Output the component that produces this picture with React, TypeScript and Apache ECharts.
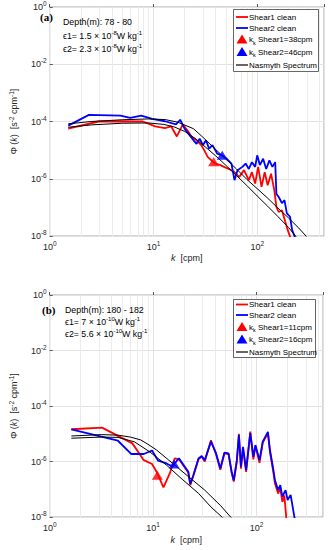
import React, { useEffect, useRef } from "react";
import * as echarts from "echarts";

// ---------- data (k in cpm, Φ in s^-2 cpm^-1) ----------
const X_MIN = 1;
const X_MAX = 440;
const Y_MIN = 1e-8;
const Y_MAX = 1;
const minorGridK = [2, 3, 4, 5, 6, 7, 8, 9, 20, 30, 40, 50, 60, 70, 80, 90, 200, 300, 400];

// Panel (a)  Depth 78 - 80 m
const shear1A: number[][] = [
  [1.51, 5.6e-5], [2.95, 1.0e-4], [4.82, 1.02e-4], [7.89, 1.0e-4], [10.4, 6.8e-5], [12.9, 5.9e-5],
  [14.8, 6.8e-5], [16.8, 3.0e-5], [19.2, 7.9e-5], [21.8, 4.3e-5], [23.4, 2.8e-5], [26.0, 2.2e-5],
  [28.9, 1.5e-5], [30.9, 9.8e-6], [33.3, 5.8e-6], [37.5, 3.9e-6], [39.6, 3.4e-6], [44.1, 3.0e-6],
  [49.0, 2.5e-6], [54.5, 2.1e-6], [60.4, 1.7e-6], [67.1, 1.15e-6], [74.6, 2.0e-6], [83.0, 8.9e-7],
  [88.9, 1.7e-6], [95.5, 6.8e-7], [102, 2.6e-6], [110, 5.2e-7], [118, 1.7e-6], [126, 5.9e-7],
  [136, 1.5e-6], [146, 4.0e-7], [153, 1.05e-7], [161, 6.9e-8], [173, 7.9e-8], [186, 3.2e-8],
  [197, 1.6e-8], [207, 9.5e-9], [215, 6e-9],
];
const shear2A: number[][] = [
  [1.51, 7.2e-5], [2.39, 1.7e-4], [4.82, 1.6e-4], [5.96, 1.35e-4], [7.62, 1.6e-4], [9.73, 1.23e-4],
  [12.9, 1.02e-4], [16.5, 7.9e-5], [18.1, 1.15e-4], [20.0, 5.5e-5], [21.8, 3.7e-5], [24.3, 2.2e-5],
  [26.0, 1.66e-5], [27.9, 2.5e-5], [30.0, 1.5e-5], [32.1, 2.2e-5], [34.4, 1.12e-5], [37.0, 1.5e-5],
  [41.1, 7.6e-6], [45.7, 6.6e-6], [50.7, 5.0e-6], [56.4, 3.4e-6], [60.4, 8.9e-7], [64.6, 2.0e-6],
  [71.9, 2.6e-6], [77.3, 3.4e-6], [83.0, 2.2e-6], [88.9, 3.8e-6], [95.5, 2.6e-6], [100, 6.6e-6],
  [106, 3.0e-6], [114, 5.0e-6], [122, 2.2e-6], [131, 4.4e-6], [140, 2.6e-6], [149, 3.8e-6],
  [153, 3.0e-7], [161, 2.3e-7], [173, 1.4e-7], [183, 1.8e-7], [193, 6.2e-8], [207, 4.7e-8],
  [217, 1.6e-8], [230, 9.5e-9], [240, 6e-9],
];
const nasmythA2: number[][] = [
  [1.51, 8.3e-5], [2.51, 1.0e-4], [5.01, 1.15e-4], [8.91, 1.23e-4], [12.9, 1.17e-4], [17.1, 9.5e-5],
  [24.3, 5.6e-5], [30.0, 2.8e-5], [39.8, 1.05e-5], [50.1, 4.8e-6], [63.1, 2.2e-6], [79.4, 9.5e-7],
  [100, 4.5e-7], [126, 2.1e-7], [158, 9.5e-8], [200, 4.3e-8], [251, 1.9e-8], [295, 1.0e-8], [320, 7e-9],
];
const nasmythA1: number[][] = [
  [1.51, 6.3e-5], [2.51, 7.6e-5], [5.01, 8.7e-5], [8.91, 8.9e-5], [12.6, 7.9e-5], [15.8, 6.5e-5],
  [20.0, 4.5e-5], [25.1, 2.6e-5], [31.6, 1.3e-5], [39.8, 6.3e-6], [50.1, 2.9e-6], [63.1, 1.3e-6],
  [79.4, 5.8e-7], [100, 2.5e-7], [126, 1.1e-7], [158, 4.8e-8], [200, 2.0e-8], [234, 1.0e-8], [255, 7e-9],
];
const kkShear1A: number[][] = [[38, 3.9e-6]];
const kkShear2A: number[][] = [[46, 6.6e-6]];

// Panel (b)  Depth 180 - 182 m
const shear1B: number[][] = [
  [1.62, 1.45e-5], [3.21, 1.66e-5], [6.31, 4.5e-6], [8.13, 1.12e-6], [9.77, 8.1e-7], [10.8, 4.3e-7],
  [12.6, 1.17e-7], [14.5, 3.7e-7], [16.2, 1.3e-6], [17.8, 1.2e-6], [21.9, 4.0e-7], [22.9, 1.4e-7],
  [24.5, 3.0e-7], [27.5, 1.2e-6], [29.5, 1.5e-6], [31.6, 1.0e-6], [36.3, 5.8e-6], [40.7, 1.8e-6],
  [44.7, 5.0e-7], [49.0, 2.0e-6], [53.7, 1.8e-6], [57.5, 4.0e-7], [60.3, 1.9e-7], [64.6, 1.0e-6],
  [67.6, 1.0e-5], [70.8, 5.5e-7], [74.1, 3.0e-6], [79.4, 4.2e-7], [87.1, 1.2e-5], [93.3, 1.2e-6],
  [97.7, 3.6e-6], [107, 9.0e-7], [115, 4.8e-6], [129, 1.05e-5], [135, 2.2e-6], [145, 4.5e-7],
  [151, 1.6e-7], [162, 7.0e-8], [170, 1.1e-7], [178, 3.5e-8], [186, 6.0e-8], [195, 8e-9],
];
const shear2B: number[][] = [
  [1.62, 1.45e-5], [4.57, 5.6e-6], [6.17, 1.86e-6], [8.13, 1.86e-6], [9.77, 2.5e-6], [11.2, 1.07e-6],
  [13.5, 8.5e-7], [15.5, 6.5e-7], [16.0, 8.1e-7], [17.8, 1.3e-6], [21.9, 4.3e-7], [22.9, 1.55e-7],
  [24.5, 3.2e-7], [27.5, 1.29e-6], [29.5, 1.58e-6], [31.6, 1.12e-6], [36.3, 5.2e-6], [40.7, 1.95e-6],
  [44.7, 5.6e-7], [49.0, 2.1e-6], [53.7, 1.95e-6], [57.5, 4.3e-7], [60.3, 2.1e-7], [64.6, 1.12e-6],
  [67.6, 8.9e-6], [70.8, 6.5e-7], [74.1, 3.4e-6], [79.4, 4.9e-7], [87.1, 1.05e-5], [93.3, 1.48e-6],
  [97.7, 3.9e-6], [107, 1.12e-6], [115, 5.2e-6], [129, 1.17e-5], [135, 2.6e-6], [145, 5.6e-7],
  [151, 2.1e-7], [162, 9.3e-8], [170, 1.41e-7], [178, 5.4e-8], [191, 9.3e-8], [200, 4.1e-8],
  [214, 6.2e-8], [224, 2.3e-8], [234, 8.9e-9],
];
const nasmythB1: number[][] = [
  [1.62, 8.3e-6], [3.16, 9.3e-6], [4.57, 8.9e-6], [6.03, 7.6e-6], [7.59, 6.0e-6], [8.91, 4.2e-6],
  [10.8, 2.6e-6], [15.5, 8.5e-7], [22.1, 2.8e-7], [31.6, 9.3e-8], [45.3, 2.5e-8], [56.2, 1.0e-8], [62, 7e-9],
];
const nasmythB2: number[][] = [
  [1.62, 6.9e-6], [3.16, 7.6e-6], [4.57, 7.4e-6], [6.61, 5.1e-6], [9.33, 2.2e-6], [13.5, 7.4e-7],
  [19.1, 2.3e-7], [27.5, 7.1e-8], [36.3, 2.3e-8], [47.9, 8.9e-9], [52, 7e-9],
];
const kkShear1B: number[][] = [[11, 3.2e-7]];
const kkShear2B: number[][] = [[16, 8.1e-7]];

const namesA = ["Shear1 clean", "Shear2 clean", "k_k Shear1=38cpm", "k_k Shear2=46cpm", "Nasmyth Spectrum"];
const namesB = ["Shear1 clean", "Shear2 clean", "k_k Shear1=11cpm", "k_k Shear2=16cpm", "Nasmyth Spectrum"];
const legendColors = ["#ff0000", "#0000ff", "#ff0000", "#0000ff", "#000000"];

// ---------- helpers ----------
const FONT = "'Liberation Sans', Arial, Helvetica, sans-serif";
const toLog = (pts: number[][]) => pts.map(([k, p]) => [Math.log10(k), Math.log10(p)]);

const supRich = {
  b: { fontSize: 9, fontFamily: FONT, color: "#262626", lineHeight: 14 },
  s: { fontSize: 6.5, fontFamily: FONT, color: "#262626", verticalAlign: "top", lineHeight: 8 },
};
const expLabel = (v: number) => {
  if (Math.abs(v - Math.round(v)) > 1e-6) return "";
  return `{b|10}{s|${Math.round(v)}}`;
};

function makeAxes(gi: number, nameGapY: number, nameGapX: number) {
  const x = {
    type: "value",
    gridIndex: gi,
    min: Math.log10(X_MIN),
    max: Math.log10(X_MAX),
    interval: 1,
    axisLine: { show: false },
    axisTick: { show: true, inside: true, length: 3, lineStyle: { color: "#555" } },
    splitLine: { show: true, lineStyle: { color: "#e2e2e2", width: 1 } },
    axisLabel: { formatter: expLabel, rich: supRich, margin: 4 },
    name: "{i|k}  [cpm]",
    nameLocation: "middle",
    nameGap: nameGapX,
    nameTextStyle: {
      fontSize: 9,
      fontFamily: FONT,
      color: "#262626",
      rich: { i: { fontStyle: "italic", fontSize: 9, fontFamily: FONT, color: "#262626" } },
    },
  };
  const y = {
    type: "value",
    gridIndex: gi,
    min: Math.log10(Y_MIN),
    max: Math.log10(Y_MAX),
    interval: 2,
    axisLine: { show: false },
    axisTick: { show: true, inside: true, length: 3, lineStyle: { color: "#555" } },
    splitLine: { show: true, lineStyle: { color: "#e2e2e2", width: 1 } },
    axisLabel: { formatter: expLabel, rich: supRich, margin: 3 },
    name: "Φ ({i|k})  [s{s|-2} cpm{s|-1}]",
    nameLocation: "middle",
    nameRotate: 90,
    nameGap: nameGapY,
    nameTextStyle: {
      fontSize: 9,
      fontFamily: FONT,
      color: "#262626",
      lineHeight: 12,
      rich: {
        i: { fontStyle: "italic", fontSize: 9, fontFamily: FONT, color: "#262626", lineHeight: 12 },
        s: { fontSize: 6.5, fontFamily: FONT, color: "#262626", verticalAlign: "top", lineHeight: 8 },
      },
    },
  };
  return { x, y };
}

function makeSeries(
  gi: number,
  s1: number[][],
  s2: number[][],
  n1: number[][],
  n2: number[][],
  t1: number[][],
  t2: number[][],
  names: string[]
) {
  const base = { xAxisIndex: gi, yAxisIndex: gi };
  const lineCommon = { type: "line", symbol: "none", showSymbol: false, clip: true, silent: true };
  return [
    {
      ...base,
      type: "line",
      name: "grid" + gi,
      data: [],
      silent: true,
      z: 1,
      markLine: {
        z: 1,
        silent: true,
        symbol: ["none", "none"],
        label: { show: false },
        lineStyle: { color: "#ececec", width: 1, type: "solid" },
        data: minorGridK.map((m) => ({ xAxis: Math.log10(m) })),
      },
    },
    { ...base, ...lineCommon, name: names[0], data: toLog(s1), lineStyle: { color: "#ff0000", width: 1.8 }, itemStyle: { color: "#ff0000" }, z: 10 },
    { ...base, ...lineCommon, name: names[1], data: toLog(s2), lineStyle: { color: "#0000ff", width: 1.8 }, itemStyle: { color: "#0000ff" }, z: 11 },
    { ...base, ...lineCommon, name: names[4], data: toLog(n1), lineStyle: { color: "#000000", width: 1 }, itemStyle: { color: "#000000" }, z: 12 },
    { ...base, ...lineCommon, name: names[4], data: toLog(n2), lineStyle: { color: "#000000", width: 1 }, itemStyle: { color: "#000000" }, z: 12 },
    { ...base, type: "scatter", name: names[2], data: toLog(t1), symbol: "triangle", symbolSize: [11, 9], itemStyle: { color: "#ff0000" }, z: 13, silent: true },
    { ...base, type: "scatter", name: names[3], data: toLog(t2), symbol: "triangle", symbolSize: [11, 9], itemStyle: { color: "#0000ff" }, z: 13, silent: true },
  ];
}

const legRich = {
  t: { fontSize: 8, fontFamily: FONT, color: "#000", lineHeight: 10 },
  sub: { fontSize: 5.5, fontFamily: FONT, color: "#000", verticalAlign: "bottom", lineHeight: 12 },
};
function legendGraphic(x0: number, y0: number, w: number, h: number, rows: number[], names: string[]) {
  const els: any[] = [
    {
      type: "rect",
      z: 100,
      silent: true,
      shape: { x: x0 + 0.5, y: y0 + 0.5, width: w, height: h },
      style: { fill: "#ffffff", stroke: "#404040", lineWidth: 0.8 },
    },
  ];
  names.forEach((n, i) => {
    const y = rows[i];
    const c = legendColors[i];
    if (i === 2 || i === 3) {
      const cx = x0 + 9;
      els.push({
        type: "polygon",
        z: 101,
        silent: true,
        shape: { points: [[cx - 5.5, y + 4], [cx + 5.5, y + 4], [cx, y - 5]] },
        style: { fill: c },
      });
    } else {
      els.push({
        type: "line",
        z: 101,
        silent: true,
        shape: { x1: x0 + 3, y1: y, x2: x0 + 15, y2: y },
        style: { stroke: c, lineWidth: i === 4 ? 1.2 : 1.8 },
      });
    }
    const label = n.startsWith("k_k") ? `{t|k}{sub|k}{t|${n.slice(3)}}` : `{t|${n}}`;
    els.push({
      type: "text",
      z: 101,
      silent: true,
      x: x0 + 16,
      y,
      style: { text: label, rich: legRich, verticalAlign: "middle", align: "left", fill: "#000" },
    });
  });
  return els;
}

const annRich = {
  n: { fontSize: 8.8, fontFamily: FONT, color: "#000", lineHeight: 12 },
  s: { fontSize: 6, fontFamily: FONT, color: "#000", verticalAlign: "top", lineHeight: 8 },
};
function annText(x: number, y: number, text: string) {
  return {
    type: "text",
    x,
    y,
    z: 90,
    silent: true,
    style: { text, rich: annRich, verticalAlign: "middle", align: "left", fill: "#000" },
  };
}
function panelLabel(x: number, y: number, text: string) {
  return {
    type: "text",
    x,
    y,
    z: 90,
    silent: true,
    style: {
      text,
      fontSize: 11,
      fontWeight: "bold",
      fontFamily: "'Liberation Serif', 'Times New Roman', serif",
      fill: "#000",
      verticalAlign: "middle",
      align: "left",
    },
  };
}

export default function App() {
  const ref = useRef<HTMLDivElement>(null);
  useEffect(() => {
    if (!ref.current) return;
    const chart = echarts.init(ref.current, null, { renderer: "svg" });
    const axA = makeAxes(0, 19, 17);
    const axB = makeAxes(1, 22, 18);
    chart.setOption({
      animation: false,
      backgroundColor: "#ffffff",
      grid: [
        { left: 35, top: 6, width: 289, height: 230, show: true, borderColor: "#a8a8a8", borderWidth: 1, backgroundColor: "#fff" },
        { left: 39, top: 295, width: 284, height: 222, show: true, borderColor: "#a8a8a8", borderWidth: 1, backgroundColor: "#fff" },
      ],
      xAxis: [axA.x, axB.x],
      yAxis: [axA.y, axB.y],
      series: [
        ...makeSeries(0, shear1A, shear2A, nasmythA2, nasmythA1, kkShear1A, kkShear2A, namesA),
        ...makeSeries(1, shear1B, shear2B, nasmythB1, nasmythB2, kkShear1B, kkShear2B, namesB),
      ],
      graphic: [
        panelLabel(40, 17, "(a)"),
        annText(63, 22, "{n|Depth(m): 78 - 80}"),
        annText(63, 35.5, "{n|ϵ1= 1.5 × 10}{s|-8}{n|W kg}{s|-1}"),
        annText(63, 49, "{n|ϵ2= 2.3 × 10}{s|-8}{n|W kg}{s|-1}"),
        panelLabel(42, 310, "(b)"),
        annText(65, 310, "{n|Depth(m): 180 - 182}"),
        annText(65, 322, "{n|ϵ1= 7 × 10}{s|-10}{n|W kg}{s|-1}"),
        annText(65, 333.5, "{n|ϵ2= 5.6 × 10}{s|-10}{n|W kg}{s|-1}"),
        ...legendGraphic(233, 9, 85, 62, [17, 28, 39.5, 52, 65], namesA),
        ...legendGraphic(233, 299, 82, 58, [304.5, 315, 327, 339.5, 352], namesB),
      ],
    });
    return () => chart.dispose();
  }, []);
  return (
    <div
      ref={ref}
      style={{ position: "fixed", left: 0, top: 0, width: 329, height: 550, background: "#fff" }}
    />
  );
}
